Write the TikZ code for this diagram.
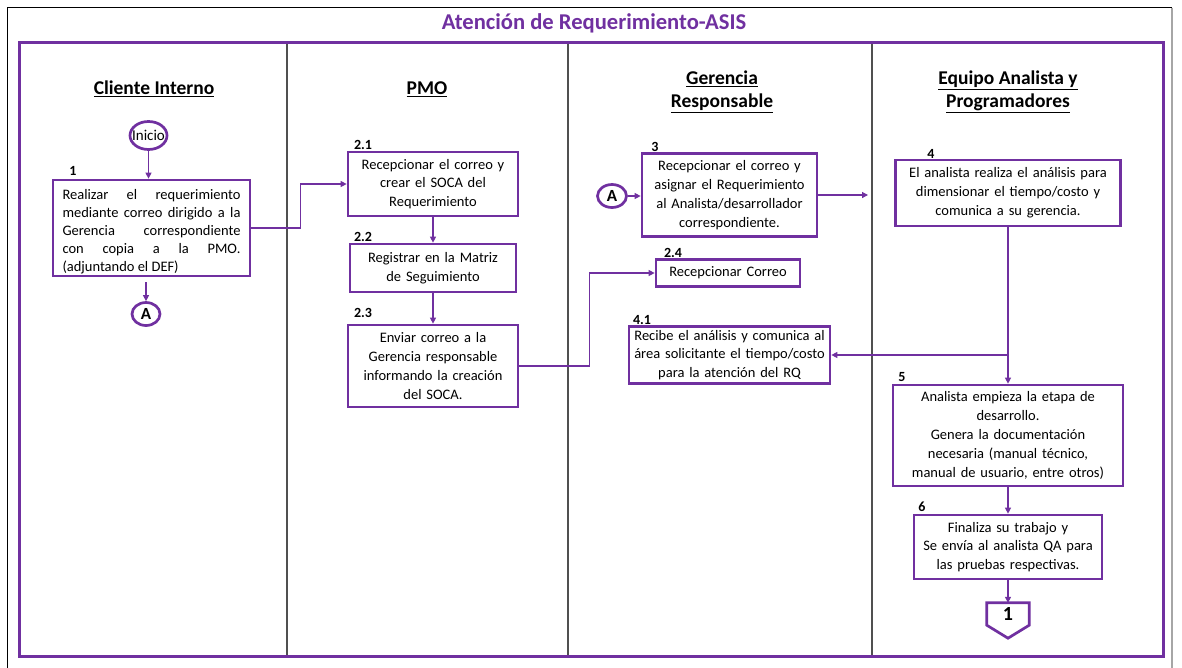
\documentclass[tikz,border=0pt]{standalone}
\usepackage{fontspec}
\setmainfont{Carlito}
\usetikzlibrary{arrows.meta,shapes.geometric,calc}
\definecolor{purp}{HTML}{7030A0}
\definecolor{lanegray}{HTML}{505050}
\hbadness=10000
\begin{document}
\begin{tikzpicture}[x=1pt,y=-1pt,
  box/.style={draw=purp, line width=2.7pt, fill=white, align=center,
    font=\fontsize{14.5}{18.8}\selectfont, inner xsep=0pt, inner ysep=0pt},
  num/.style={font=\bfseries\fontsize{14}{14}\selectfont, inner sep=0pt},
  hdr/.style={font=\bfseries\fontsize{19.5}{23}\selectfont, align=center, inner sep=0pt},
  flow/.style={draw=purp, line width=1.2pt, -{Triangle[length=6pt,width=6pt]}},
  link/.style={draw=purp, line width=1.2pt},
  oval/.style={draw=purp, line width=2.7pt, ellipse, inner sep=0pt},
]
\useasboundingbox (0,0) rectangle (1182,667);

% page frame and swimlane frame
\draw[black, line width=1.6pt] (7.5,680) -- (7.5,7.5) -- (1172,7.5);
\draw[gray!70, line width=1.2pt] (1172,7.5) -- (1172,680);
\node[font=\bfseries\fontsize{22.6}{24}\selectfont, text=purp] (title) at (594,23) {Atención de Requerimiento-ASIS};
\draw[lanegray, line width=1.3pt] (287,42) -- (287,656) (568,42) -- (568,656) (872,42) -- (872,656);
\draw[purp, line width=3pt] (19,42) rectangle (1163,656);

% lane headers
\node[hdr] (h1) at (154,89) {\underline{Cliente Interno}};
\node[hdr] (h2) at (427,89) {\underline{PMO}};
\node[hdr] (h3) at (722,92) {\underline{Gerencia}\\\underline{Responsable}};
\node[hdr] (h4) at (1008,92) {\underline{Equipo Analista y}\\\underline{Programadores}};

% Cliente Interno
\node[oval, minimum width=37pt, minimum height=28pt,
  label={[font=\fontsize{15}{16}\selectfont, inner sep=0pt]center:Inicio}] (ini) at (148.5,135.5) {};
\node[box, minimum width=197pt, minimum height=96pt] (b1) at (151.5,228) {};
\node[font=\fontsize{14.5}{18}\selectfont, text width=178pt, inner sep=0pt, align=justify] (t1) at ($(b1.center)+(0,4)$)
  {Realizar el requerimiento\linebreak mediante correo dirigido a la\linebreak Gerencia correspondiente\linebreak con copia a la PMO.\linebreak (adjuntando el DEF)};
\node[num] (n1) at (73,171) {1};
\node[oval, minimum width=28pt, minimum height=23pt, font=\bfseries\fontsize{17}{17}\selectfont] (a1) at (146,314) {A};

% PMO
\node[box, text width=170pt, minimum height=64pt] (b21) at (433,184) {Recepcionar el correo y\\crear el SOCA del\\Requerimiento};
\node[num] (n21) at (363,145) {2.1};
\node[box, text width=166pt, minimum height=48pt] (b22) at (433,268) {Registrar en la Matriz\\de Seguimiento};
\node[num] (n22) at (363,237) {2.2};
\node[box, text width=170pt, minimum height=82pt] (b23) at (433,366) {Enviar correo a la\\Gerencia responsable\\informando la creación\\del SOCA.};
\node[num] (n23) at (363,313) {2.3};

% Gerencia Responsable
\node[oval, minimum width=29pt, minimum height=23pt, font=\bfseries\fontsize{17}{17}\selectfont] (a2) at (612,196) {A};
\node[box, text width=175pt, minimum height=83pt] (b3) at (729.5,195) {Recepcionar el correo y\\asignar el Requerimiento\\al Analista/desarrollador\\correspondiente.};
\node[num] (n3) at (655,147) {3};
\node[box, text width=144pt, minimum height=27pt] (b24) at (728,273) {Recepcionar Correo};
\node[num] (n24) at (673,253) {2.4};
\node[box, text width=201pt, minimum height=57pt] (b41) at (729.5,355) {Recibe el análisis y comunica al\\área solicitante el tiempo/costo\\para la atención del RQ};
\node[num] (n41) at (642,320) {4.1};

% Equipo Analista y Programadores
\node[box, text width=225pt, minimum height=66pt] (b4) at (1008,193) {El analista realiza el análisis para\\dimensionar el tiempo/costo y\\comunica a su gerencia.};
\node[num] (n4) at (931,154) {4};
\node[box, text width=230pt, minimum height=101pt] (b5) at (1008,435.5) {Analista empieza la etapa de\\desarrollo.\\Genera la documentación\\necesaria (manual técnico,\\manual de usuario, entre otros)};
\node[num] (n5) at (902,377) {5};
\node[box, text width=188pt, minimum height=64pt] (b6) at (1008,547) {Finaliza su trabajo y\\Se envía al analista QA para\\las pruebas respectivas.};
\node[num] (n6) at (922,507) {6};
\node[minimum width=42pt, minimum height=22pt, inner sep=0pt, font=\bfseries\fontsize{20}{20}\selectfont] (off1) at (1008,614) {\raisebox{-3pt}{1}};
\draw[purp, line width=2.7pt, line join=miter]
  (off1.north west) -- (off1.north east) -- (off1.south east)
  -- ($(off1.south)+(0,13)$) -- (off1.south west) -- cycle;

% connectors
\draw[flow] (ini.south) -- (ini.south |- b1.north);
\draw[flow, shorten <=5pt] (b1.south -| a1) -- (a1.north);
\draw[flow] (b1.east) -- ++(49,0) |- (b21.west);
\draw[flow] (b21.south) -- (b21.south |- b22.north);
\draw[flow] (b22.south) -- (b22.south |- b23.north);
\draw[flow] (b23.east) -- ++(70,0) |- (b24.west);
\draw[flow] (a2.east) -- (b3.west |- a2.east);
\coordinate (c3) at (868,195);
\draw[flow] (b3.east) -- (c3);
\coordinate (j4) at (b4.south |- b41.east);
\draw[link] (b4.south) -- (j4);
\draw[flow] (j4) -- (b41.east);
\draw[flow] (j4) -- (b5.north);
\draw[flow] (b5.south) -- (b6.north);
\draw[flow] (b6.south) -- (off1.north);
\end{tikzpicture}
\end{document}
